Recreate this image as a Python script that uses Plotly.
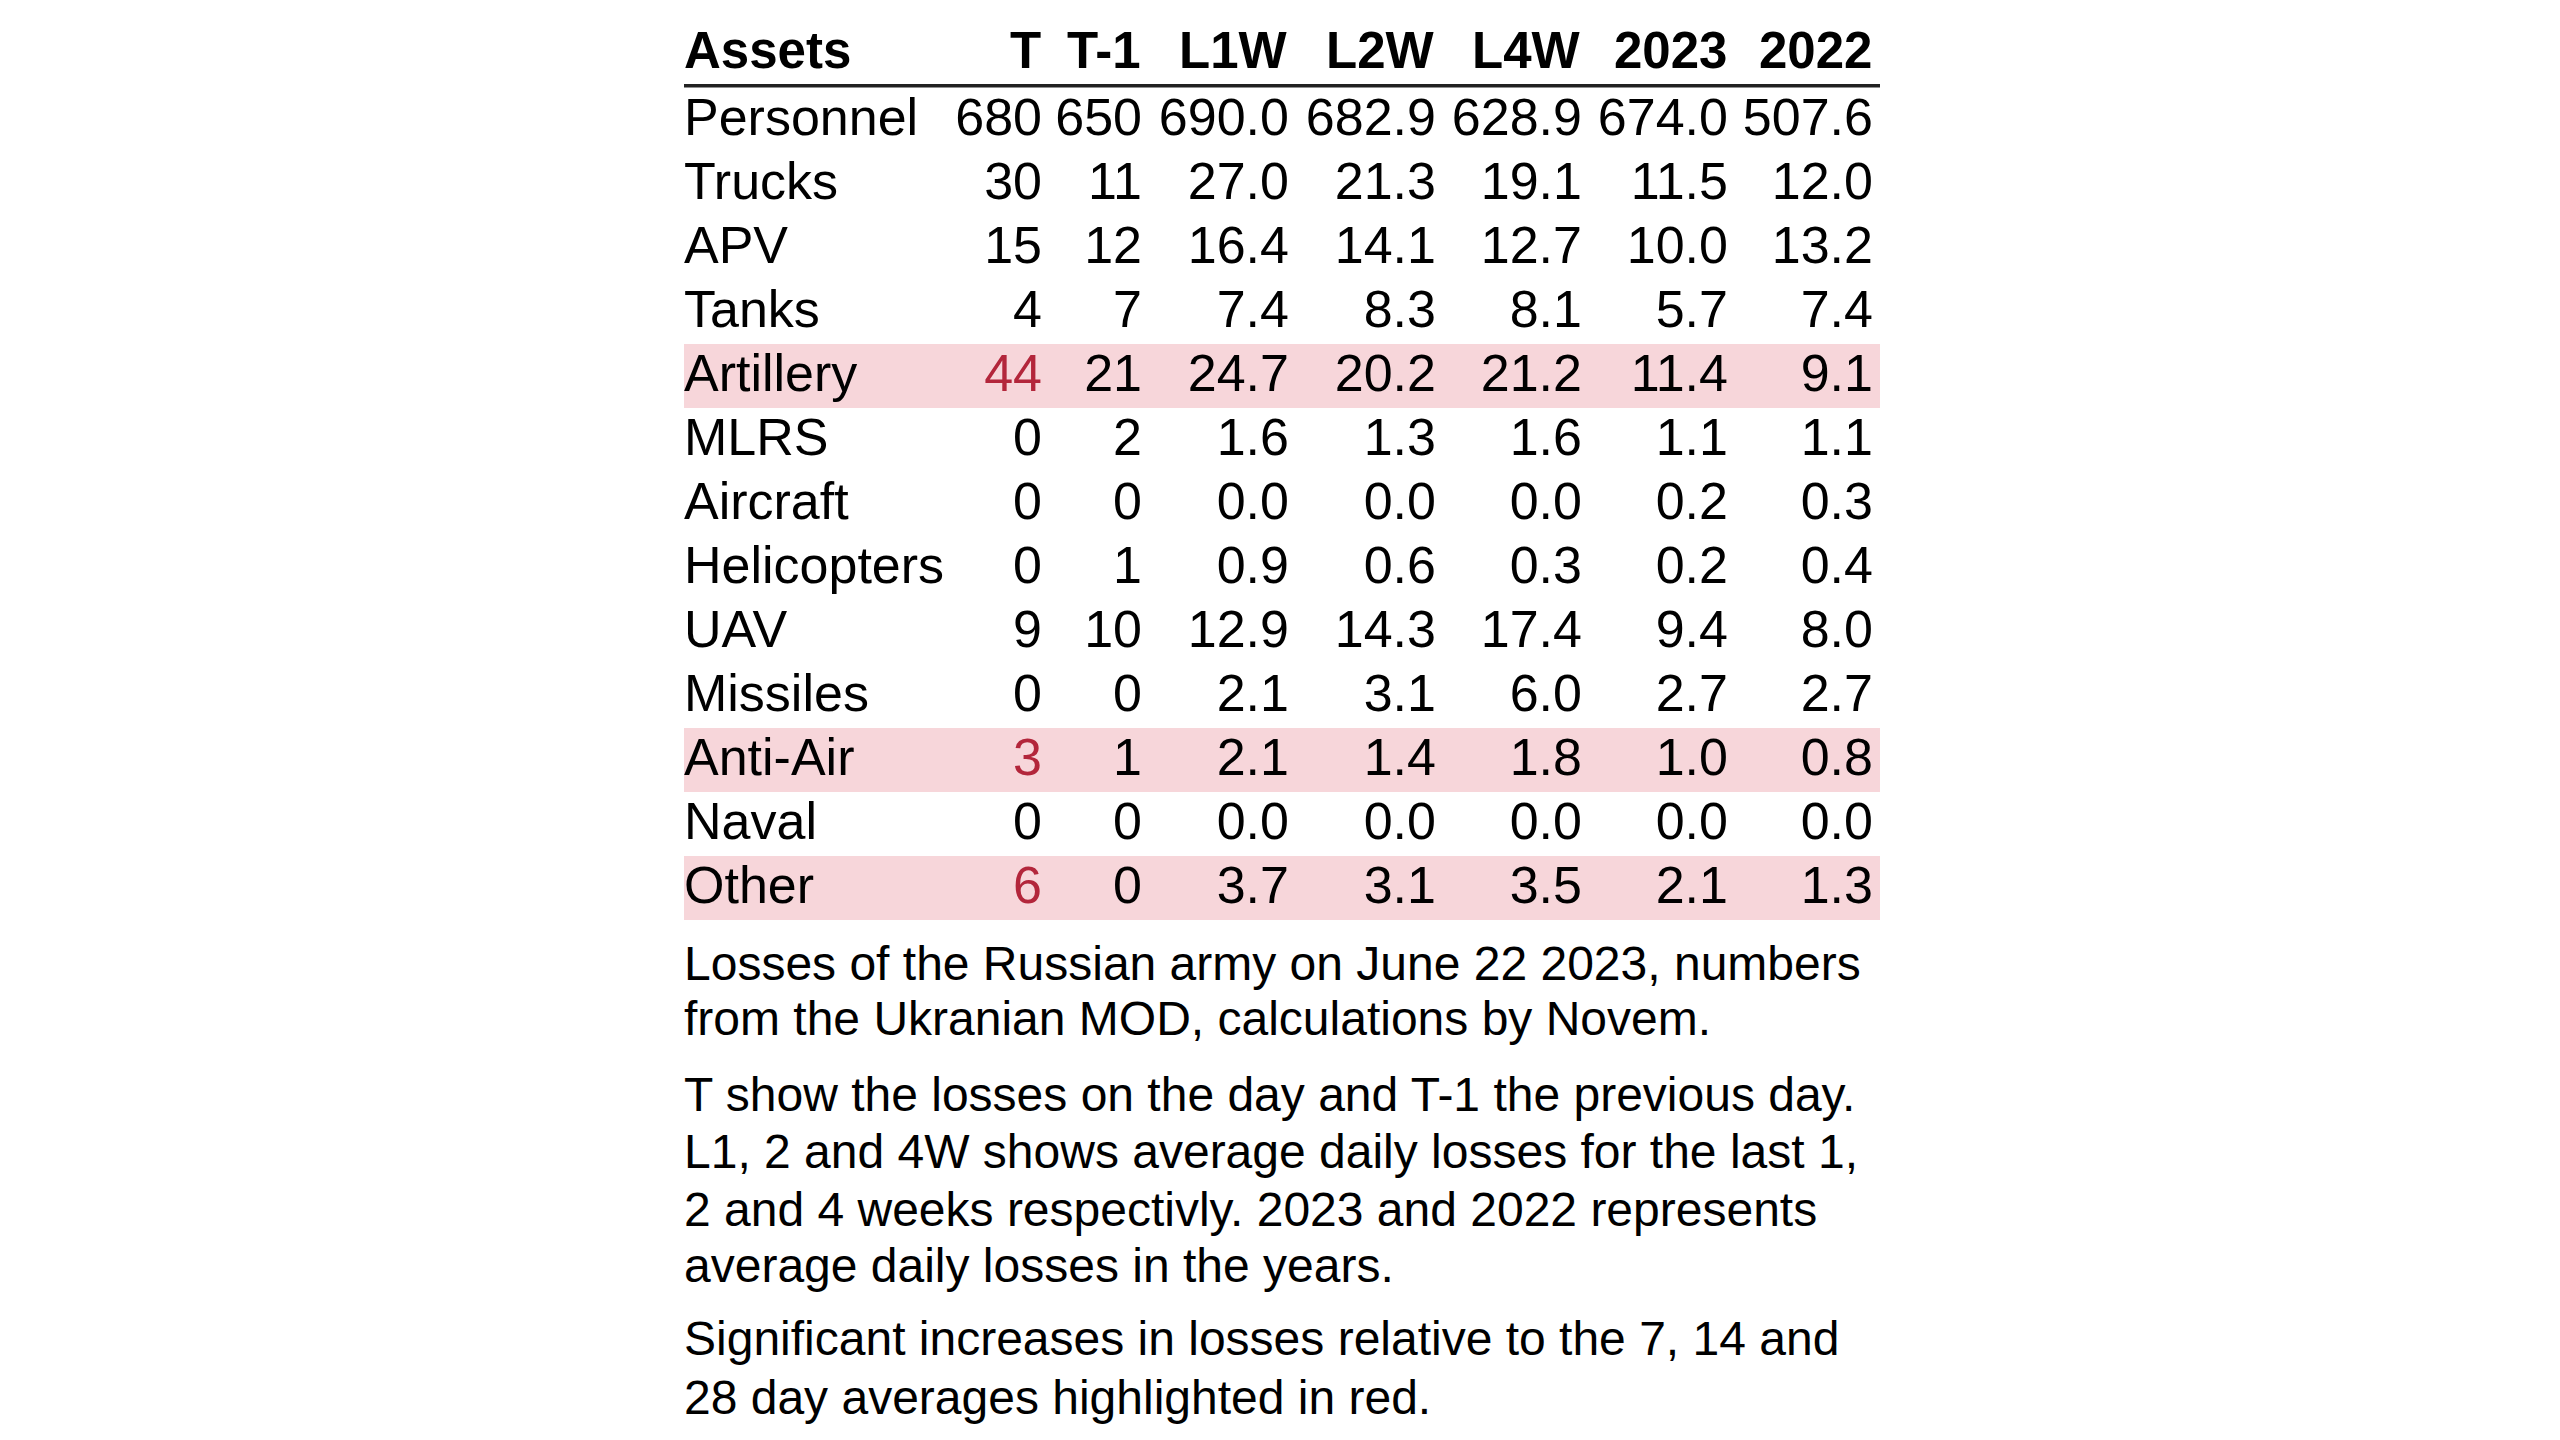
import plotly.graph_objects as go

# Données du tableau (pertes russes, 22 juin 2023)
ROWS = ["Personnel", "Trucks", "APV", "Tanks", "Artillery", "MLRS", "Aircraft",
        "Helicopters", "UAV", "Missiles", "Anti-Air", "Naval", "Other"]
HEADERS = ["Assets", "T", "T-1", "L1W", "L2W", "L4W", "2023", "2022"]

T = [680, 30, 15, 4, 44, 0, 0, 0, 9, 0, 3, 0, 6]
T1 = [650, 11, 12, 7, 21, 2, 0, 1, 10, 0, 1, 0, 0]
L1W = [690.0, 27.0, 16.4, 7.4, 24.7, 1.6, 0.0, 0.9, 12.9, 2.1, 2.1, 0.0, 3.7]
L2W = [682.9, 21.3, 14.1, 8.3, 20.2, 1.3, 0.0, 0.6, 14.3, 3.1, 1.4, 0.0, 3.1]
L4W = [628.9, 19.1, 12.7, 8.1, 21.2, 1.6, 0.0, 0.3, 17.4, 6.0, 1.8, 0.0, 3.5]
Y2023 = [674.0, 11.5, 10.0, 5.7, 11.4, 1.1, 0.2, 0.2, 9.4, 2.7, 1.0, 0.0, 2.1]
Y2022 = [507.6, 12.0, 13.2, 7.4, 9.1, 1.1, 0.3, 0.4, 8.0, 2.7, 0.8, 0.0, 1.3]

HIGHLIGHT = ["Artillery", "Anti-Air", "Other"]

NOTES = [
    "Losses of the Russian army on June 22 2023, numbers",
    "from the Ukranian MOD, calculations by Novem.",
    "T show the losses on the day and T-1 the previous day.",
    "L1, 2 and 4W shows average daily losses for the last 1,",
    "2 and 4 weeks respectivly. 2023 and 2022 represents",
    "average daily losses in the years.",
    "Significant increases in losses relative to the 7, 14 and",
    "28 day averages highlighted in red.",
]

# Mise en page (pixels écran ; la page ajoute une marge de 8 px)
W, H = 2560, 1440
OFF = 8
FONT = "Liberation Sans, Arial, sans-serif"
CELL_SIZE = 52
TABLE_LEFT, TABLE_RIGHT = 684, 1880
COL_RIGHT = [1042, 1142, 1289, 1436, 1582, 1728, 1873]
NOTE_BASELINES = [980, 1035, 1111, 1168, 1226, 1282, 1355, 1414]
ROW0, ROW_H = 122, 64      # centre (texte) de la première ligne
BAND_SHIFT = (120 - ROW0) / ROW_H   # les bandes sont 2 px plus haut que le texte
PINK = "#f7d6da"
RED = "#b3263b"


def py(p):
    return 1 - (p - OFF) / H


fig = go.Figure()

# bandes roses pour les lignes en hausse
for name in HIGHLIGHT:
    i = ROWS.index(name)
    fig.add_shape(type="rect", xref="x", yref="y", x0=TABLE_LEFT, x1=TABLE_RIGHT,
                  y0=i - 0.5 + BAND_SHIFT, y1=i + 0.5 + BAND_SHIFT,
                  fillcolor=PINK, line_width=0, layer="below")

# ligne sous l'en-tête
fig.add_shape(type="line", xref="x", yref="paper", x0=TABLE_LEFT, x1=TABLE_RIGHT,
              y0=py(85.8), y1=py(85.8), line=dict(color="#222222", width=3.5))

# colonne des actifs
fig.add_trace(go.Scatter(x=[TABLE_LEFT] * len(ROWS), y=ROWS, mode="text", text=ROWS,
                         textposition="middle right",
                         textfont=dict(family=FONT, size=CELL_SIZE, color="black"),
                         hoverinfo="skip"))

columns = [T, T1, L1W, L2W, L4W, Y2023, Y2022]
for j, vals in enumerate(columns):
    if j < 2:
        txt = [f"{v:d}" for v in vals]
    else:
        txt = [f"{v:.1f}" for v in vals]
    colors = ["black"] * len(ROWS)
    if j == 0:
        colors = [RED if r in HIGHLIGHT else "black" for r in ROWS]
    fig.add_trace(go.Scatter(x=[COL_RIGHT[j]] * len(ROWS), y=ROWS, mode="text", text=txt,
                             textposition="middle left",
                             textfont=dict(family=FONT, size=CELL_SIZE, color=colors),
                             hoverinfo="skip"))

# en-têtes
header_y = py(68 - 0.3465 * 51)
fig.add_annotation(x=TABLE_LEFT - 1, y=header_y, xref="x", yref="paper", text=HEADERS[0],
                   xanchor="left", yanchor="middle", showarrow=False, borderpad=0,
                   font=dict(family=FONT, size=51, color="black", weight="bold"))
for j, h in enumerate(HEADERS[1:]):
    fig.add_annotation(x=COL_RIGHT[j], y=header_y, xref="x", yref="paper", text=h,
                       xanchor="right", yanchor="middle", showarrow=False, borderpad=0,
                       font=dict(family=FONT, size=51, color="black", weight="bold"))

# notes sous le tableau
for line, base in zip(NOTES, NOTE_BASELINES):
    fig.add_annotation(x=TABLE_LEFT - 1, y=py(base - 0.3465 * 48), xref="x", yref="paper",
                       text=line, xanchor="left", yanchor="middle", showarrow=False,
                       borderpad=0, font=dict(family=FONT, size=48, color="black"))

fig.update_xaxes(range=[OFF, OFF + W], visible=False, fixedrange=True)
fig.update_yaxes(type="category", categoryorder="array", categoryarray=ROWS,
                 range=[(H + OFF - ROW0) / ROW_H, (OFF - ROW0) / ROW_H],
                 visible=False, fixedrange=True)
fig.update_layout(width=W, height=H, margin=dict(l=0, r=0, t=0, b=0),
                  paper_bgcolor="white", plot_bgcolor="white", showlegend=False)

fig.write_html("out.html")
